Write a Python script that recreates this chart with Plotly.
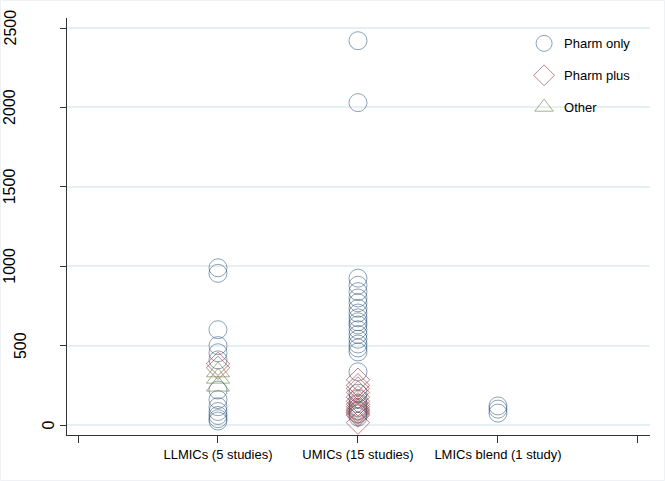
import plotly.graph_objects as go

# ---- data ----
categories = ["LLMICs (5 studies)", "UMICs (15 studies)", "LMICs blend (1 study)"]
category_pos = [1, 2, 3]

pharm_only_llmics = [990, 955, 600, 500, 455, 410, 220, 160, 115, 85, 60, 40, 25]
pharm_plus_llmics = [385, 360]
other_llmics = [335, 295, 245]

pharm_only_umics = [2420, 2030, 925, 880, 840, 800, 770, 735, 705, 675, 650, 630,
                    600, 570, 540, 510, 485, 460, 335, 200, 165, 135, 110, 90, 70, 50]
pharm_plus_umics = [285, 250, 230, 205, 175, 150, 130, 115, 100, 90, 80, 70, 60, 15]

pharm_only_blend = [120, 100, 75]

y_ticks = [0, 500, 1000, 1500, 2000, 2500]
y_tick_labels = ["0", "500", "1000", "1500", "2000", "2500"]

# ---- assemble series ----
def stack(groups):
    xs, ys = [], []
    for pos, vals in groups:
        xs += [pos] * len(vals)
        ys += vals
    return xs, ys

po_x, po_y = stack([(category_pos[0], pharm_only_llmics),
                    (category_pos[1], pharm_only_umics),
                    (category_pos[2], pharm_only_blend)])
pp_x, pp_y = stack([(category_pos[0], pharm_plus_llmics),
                    (category_pos[1], pharm_plus_umics)])
ot_x, ot_y = stack([(category_pos[0], other_llmics)])

NAVY = "rgba(26,71,111,0.5)"
MAROON = "rgba(144,53,59,0.6)"
GREEN = "rgba(85,117,47,0.55)"

fig = go.Figure()
fig.add_trace(go.Scatter(x=po_x, y=po_y, mode="markers", name="Pharm only",
                         legendgroup="a",
                         marker=dict(symbol="circle-open", size=18, color=NAVY,
                                     line=dict(width=1, color=NAVY))))
fig.add_trace(go.Scatter(x=pp_x, y=pp_y, mode="markers", name="Pharm plus",
                         legendgroup="b",
                         marker=dict(symbol="diamond-open", size=18, color=MAROON,
                                     line=dict(width=1, color=MAROON))))
fig.add_trace(go.Scatter(x=ot_x, y=ot_y, mode="markers", name="Other",
                         legendgroup="c",
                         marker=dict(symbol="triangle-up-open", size=20, color=GREEN,
                                     line=dict(width=1, color=GREEN))))

# rotated y tick labels, offset like the original (longer labels sit further left)
for v, lab in zip(y_ticks, y_tick_labels):
    n = len(lab)
    shift = 19.5 + 13.5 * min(n - 1, 2) + 11 * max(n - 3, 0)
    fig.add_annotation(x=0, xref="paper", y=v, yref="y", text=lab,
                       showarrow=False, textangle=-90, xanchor="center",
                       yanchor="middle", xshift=-shift, borderpad=0,
                       font=dict(size=16, color="#000000",
                                 family="Liberation Sans, Arial, sans-serif"))

# faint outer frame of the graph region
PW, PH = 583.0, 417.0
fig.add_shape(type="rect", xref="paper", yref="paper",
              x0=-66.5 / PW, x1=1 + 14.5 / PW, y0=-45.5 / PH, y1=1 + 17.5 / PH,
              line=dict(color="#eef2f4", width=1), fillcolor="rgba(0,0,0,0)",
              layer="below")

fig.update_layout(
    width=665, height=481,
    margin=dict(l=67, r=15, t=18, b=46),
    paper_bgcolor="white", plot_bgcolor="white",
    font=dict(family="Liberation Sans, Arial, sans-serif", size=13, color="#000000"),
    showlegend=True,
    legend=dict(x=0.784, y=0.975, xanchor="left", yanchor="top",
                bgcolor="rgba(0,0,0,0)", tracegroupgap=12,
                font=dict(size=13)),
    xaxis=dict(range=[-0.0786, 4.086], tickmode="array",
               tickvals=[0] + category_pos + [4],
               ticktext=[""] + categories + [""],
               showgrid=False, zeroline=False,
               showline=True, linecolor="#333333", linewidth=1,
               ticks="outside", ticklen=7, tickcolor="#333333",
               tickfont=dict(size=13)),
    yaxis=dict(range=[-63, 2563], tickmode="array", tickvals=y_ticks,
               showticklabels=False, showgrid=True, gridcolor="#e6eff2",
               gridwidth=1.5, zeroline=False,
               showline=True, linecolor="#333333", linewidth=1,
               ticks="outside", ticklen=6, tickcolor="#333333"),
)

fig.write_html("out.html", config={"displayModeBar": False},
               post_script="document.body.style.margin='0';document.body.style.padding='0';")
